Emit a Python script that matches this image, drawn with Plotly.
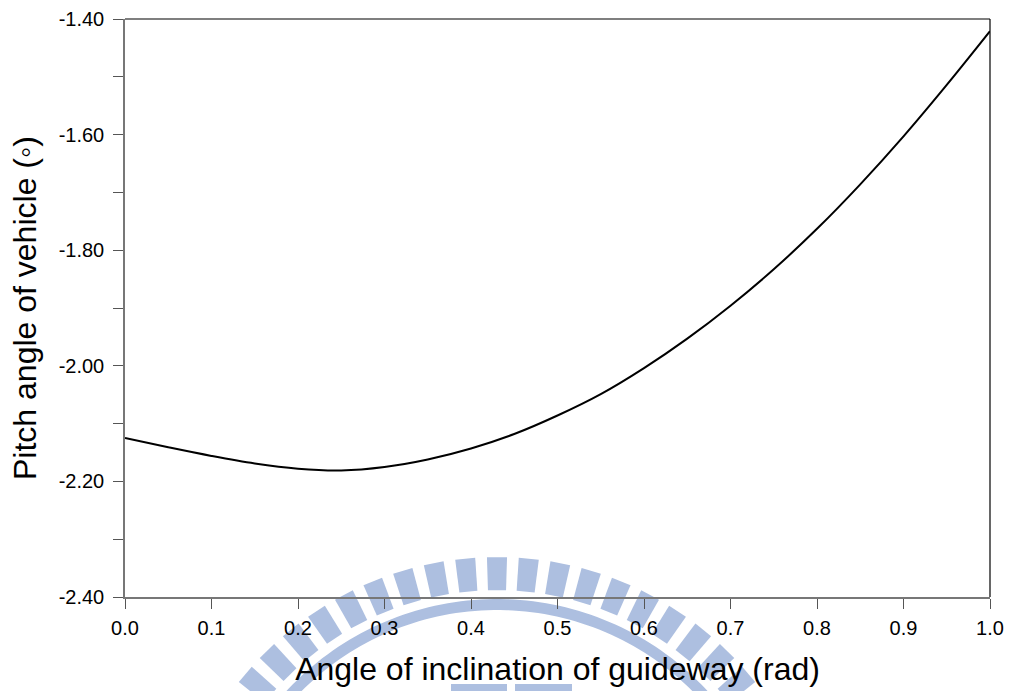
import numpy as np
import plotly.graph_objects as go

# Guideway inclination (rad) and resulting vehicle pitch angle (deg)
incline_rad = [0.00, 0.05, 0.10, 0.15, 0.20, 0.25, 0.30, 0.35, 0.40, 0.45, 0.50,
               0.55, 0.60, 0.65, 0.70, 0.75, 0.80, 0.85, 0.90, 0.95, 1.00]
pitch_deg = [-2.125, -2.141, -2.156, -2.169, -2.178, -2.181, -2.175, -2.162, -2.143,
             -2.118, -2.086, -2.049, -2.004, -1.953, -1.896, -1.833, -1.763, -1.686,
             -1.603, -1.514, -1.421]

x_ticks = [0.0, 0.1, 0.2, 0.3, 0.4, 0.5, 0.6, 0.7, 0.8, 0.9, 1.0]
x_ticktext = ["0.0", "0.1", "0.2", "0.3", "0.4", "0.5", "0.6", "0.7", "0.8", "0.9", "1.0"]
y_ticks = [-2.40, -2.20, -2.00, -1.80, -1.60, -1.40]
y_ticktext = ["-2.40", "-2.20", "-2.00", "-1.80", "-1.60", "-1.40"]
y_minor = [-2.30, -2.10, -1.90, -1.70, -1.50]

W, H = 1009, 691
ML, MR, MT, MB = 125, 19, 19, 94
PW, PH = W - ML - MR, H - MT - MB

FONT = "Liberation Sans, Arial, sans-serif"
EMBLEM = "#adbfe0"


def px_to_paper(px, py):
    return (px - ML) / PW, (H - MB - py) / PH


def poly_path(points):
    pts = [px_to_paper(px, py) for px, py in points]
    return "M " + " L ".join(f"{x:.5f},{y:.5f}" for x, y in pts) + " Z"


# University emblem printed behind the lower part of the page
shapes = []
cx, cy = 497.0, 886.0
r_out, r_in = 329.0, 296.0
step = np.deg2rad(5.55)
half = np.deg2rad(1.75)
for k in range(-9, 10):
    a = k * step
    pts = []
    for ang, rad in [(a - half, r_in), (a - half, r_out), (a + half, r_out), (a + half, r_in)]:
        pts.append((cx + rad * np.sin(ang), cy - rad * np.cos(ang)))
    shapes.append(dict(type="path", path=poly_path(pts), fillcolor=EMBLEM,
                       line=dict(width=0), layer="below", xref="paper", yref="paper"))

ring_a = np.linspace(-np.deg2rad(52), np.deg2rad(52), 80)
ring_pts = [(cx + 287 * np.sin(a), cy - 287 * np.cos(a)) for a in ring_a]
ring_pts += [(cx + 276 * np.sin(a), cy - 276 * np.cos(a)) for a in ring_a[::-1]]
shapes.append(dict(type="path", path=poly_path(ring_pts), fillcolor=EMBLEM,
                   line=dict(width=0), layer="below", xref="paper", yref="paper"))
for x0, x1 in [(451, 507), (515, 572)]:
    shapes.append(dict(type="path",
                       path=poly_path([(x0, 684), (x1, 684), (x1, 700), (x0, 700)]),
                       fillcolor=EMBLEM, line=dict(width=0), layer="below",
                       xref="paper", yref="paper"))

# Black frame on the top and right sides
shapes.append(dict(type="line", xref="paper", yref="paper", x0=0, x1=1, y0=1, y1=1,
                   line=dict(color="black", width=1.2)))
shapes.append(dict(type="line", xref="paper", yref="paper", x0=1, x1=1, y0=0, y1=1,
                   line=dict(color="black", width=1.2)))

fig = go.Figure()
fig.add_trace(go.Scatter(x=incline_rad, y=pitch_deg, mode="lines",
                         line=dict(color="black", width=2, shape="spline", smoothing=1.0),
                         showlegend=False))

fig.update_layout(
    width=W, height=H,
    margin=dict(l=ML, r=MR, t=MT, b=MB, autoexpand=False),
    paper_bgcolor="white", plot_bgcolor="white",
    font=dict(family=FONT, color="black"),
    shapes=shapes,
    xaxis=dict(
        range=[0, 1], tickmode="array", tickvals=x_ticks, ticktext=x_ticktext,
        ticks="outside", ticklen=10, tickwidth=1.2, tickcolor="#555555",
        showline=True, linecolor="#777777", linewidth=1.5,
        showgrid=False, zeroline=False, automargin=False,
        tickfont=dict(size=20, family=FONT, color="black"),
        ticklabelstandoff=2,
        title=dict(text="Angle of inclination of guideway (rad)",
                   font=dict(size=32, family=FONT, color="black"), standoff=20),
    ),
    yaxis=dict(
        range=[-2.4, -1.4], tickmode="array", tickvals=y_ticks, ticktext=y_ticktext,
        ticks="outside", ticklen=10, tickwidth=1.2, tickcolor="#555555",
        minor=dict(tickmode="array", tickvals=y_minor, ticks="outside", ticklen=10,
                   tickwidth=1.2, tickcolor="#555555", showgrid=False),
        showline=True, linecolor="#777777", linewidth=1.5,
        showgrid=False, zeroline=False, automargin=False,
        tickfont=dict(size=20, family=FONT, color="black"),
        ticklabelstandoff=5,
        title=dict(text="Pitch angle of vehicle (\u25e6)",
                   font=dict(size=32, family=FONT, color="black"), standoff=12),
    ),
)

fig.write_html("out.html")
